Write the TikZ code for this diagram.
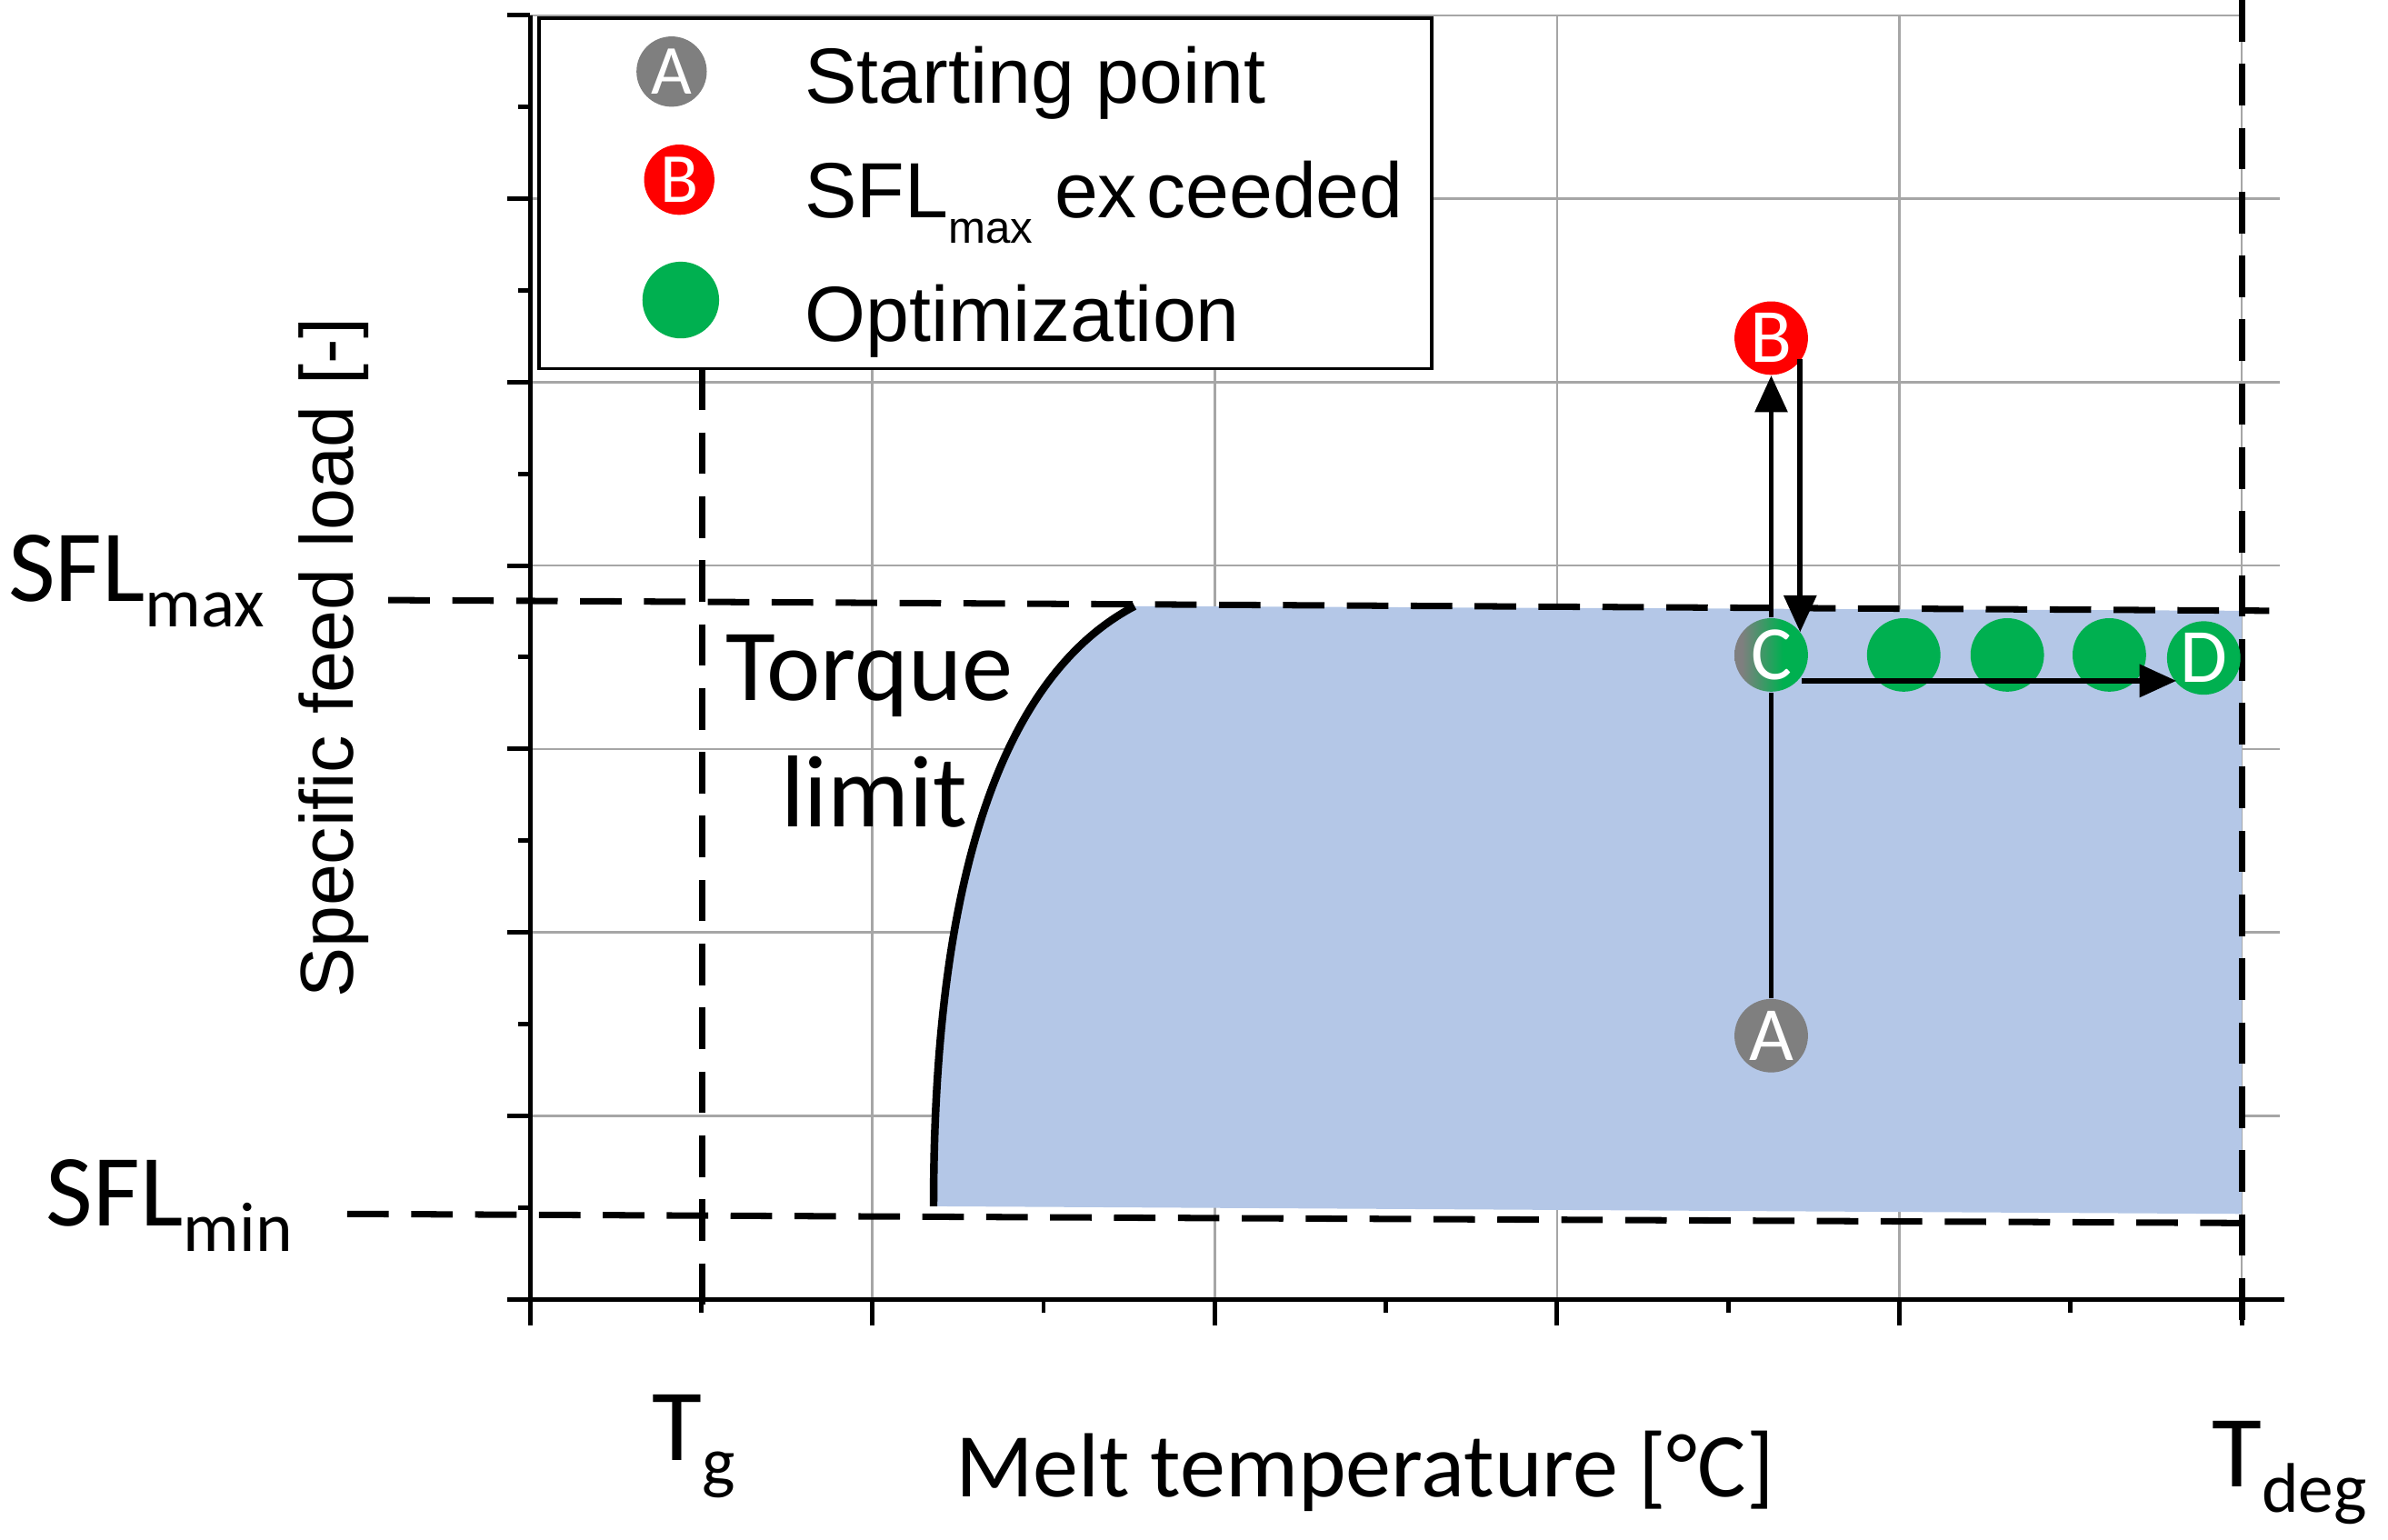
\documentclass[tikz,border=0pt]{standalone}
\usepackage{fontspec}
\setmainfont{Carlito}
\newfontfamily\arialf{Liberation Sans}
\usetikzlibrary{arrows.meta,calc}
\definecolor{cgray}{HTML}{7F7F7F}
\definecolor{cgreen}{HTML}{00B050}
\definecolor{cred}{HTML}{FF0000}
\definecolor{cblue}{HTML}{B4C7E7}
\definecolor{gridc}{HTML}{A6A6A6}
\pgfdeclarehorizontalshading{cshade}{100bp}{color(0bp)=(cgray); color(30bp)=(cgray); color(58bp)=(cgreen); color(100bp)=(cgreen)}
\tikzset{
  gridl/.style={draw=gridc, line width=0.7pt},
  axisl/.style={line width=1.4pt, black},
  dsh/.style={line width=2pt, dash pattern=on 13pt off 7pt},
  arr/.style={line width=1.7pt, -{Triangle[length=11.5pt,width=10pt]}},
  pt/.style={circle, minimum size=23pt, inner sep=0pt, text=white, font=\fontsize{24}{24}\selectfont},
  lpt/.style={circle, minimum size=22pt, inner sep=0pt, text=white, font=\fontsize{22}{22}\selectfont},
  lab/.style={font=\fontsize{32}{38}\selectfont, inner sep=0pt},
  legtxt/.style={font=\arialf\fontsize{24.5}{28}\selectfont, inner sep=0pt, anchor=base west}
}
\newcommand{\sbx}[1]{\raisebox{-8pt}{\fontsize{22}{26}\selectfont #1}}
\begin{document}
\begin{tikzpicture}[x=0.016754cm, y=-0.016754cm]
\useasboundingbox (0,0) rectangle (1568,1011);
% grid
\foreach \k in {1,...,5} \draw[gridl] ({348+224.8*\k},10) -- ({348+224.8*\k},853);
\draw[gridl] (348,10) -- (1472,10);
\foreach \k in {1,...,6} \draw[gridl] (348,{10+120.43*\k}) -- (1497,{10+120.43*\k});
% feasible region
\fill[cblue] (613,792) .. controls (613,560) and (665,440) .. (745,398) -- (1472,401) -- (1472,797) -- cycle;
\draw[line width=2.4pt] (613,792) .. controls (613,560) and (665,440) .. (745,398);
% dashed limits
\draw[dsh] (255,394) -- (1490,401);
\draw[dsh] (228,797) -- (1472,803);
\draw[dsh] (461,242) -- (461,870);
\draw[dsh] (1472,0) -- (1472,870);
% axes
\draw[axisl] (348,10) -- (348,853);
\draw[axisl] (333,853) -- (1500,853);
\foreach \k in {0,...,7} \draw[axisl] (333,{10+120.43*\k}) -- (348,{10+120.43*\k});
\foreach \k in {0,...,6} \draw[axisl] (340,{70.2+120.43*\k}) -- (348,{70.2+120.43*\k});
\foreach \k in {0,...,5} \draw[axisl] ({348+224.8*\k},853) -- ({348+224.8*\k},870);
\foreach \k in {0,...,4} \draw[axisl] ({460.4+224.8*\k},853) -- ({460.4+224.8*\k},862);
% legend
\draw[fill=white, line width=1pt] (354,12) rectangle (940,242);
\node[lpt, fill=cgray] (LA) at (441,47) {A};
\node[lpt, fill=cred] (LB) at (446,118) {B};
\node[lpt, fill=cgreen, minimum size=24pt] (LG) at (447,197) {};
\node[legtxt] (t1) at (528,68) {Starting point};
\node[legtxt] (t2) at (528,143) {SFL\raisebox{-8pt}{\arialf\fontsize{14}{16}\selectfont max} ex\hspace{0.12em}ceeded};
\node[legtxt] (t3) at (528,224) {Optimization};
% axis labels
\node[lab, anchor=base west] (sflmax) at (5,395) {SFL\sbx{max}};
\node[lab, anchor=base west] (sflmin) at (30,805) {SFL\sbx{min}};
\node[lab, anchor=base west] (tg) at (428,959) {T\sbx{g}};
\node[lab, anchor=base west] (tdeg) at (1452,976) {T\sbx{deg}};
\node[font=\fontsize{28.5}{34}\selectfont, inner sep=0pt, anchor=base west] (xl) at (627,983) {Melt temperature [°C]};
\node[font=\arialf\fontsize{23.5}{28}\selectfont, inner sep=0pt, rotate=90] (yl) at (219,432) {Specific feed load [-]};
\node[lab, anchor=base] (torque) at (571,460) {Torque};
\node[lab, anchor=base] (limit) at (574,543) {limit};
% points
\node[pt, fill=cgray] (A) at (1163,680) {A};
\node[pt, fill=cred] (B) at (1163,222) {B};
\node[pt, fill=cgreen] (G1) at (1250,430) {};
\node[pt, fill=cgreen] (G2) at (1318,430) {};
\node[pt, fill=cgreen] (G3) at (1385,430) {};
\node[pt, fill=cgreen] (D) at (1447,432) {D};
\node[pt, shading=cshade] (C) at (1163,430) {C};
% connectors
\draw[line width=1.7pt] (A.north) -- (C.south);
\draw[arr] (C.north) -- (B.south);
\draw[arr] ($(B.center)+(19,14)$) -- ($(C.center)+(19,-15)$);
\draw[arr] ($(C.center)+(20,17)$) -- ($(D.center)+(-18,15)$);
\end{tikzpicture}
\end{document}
